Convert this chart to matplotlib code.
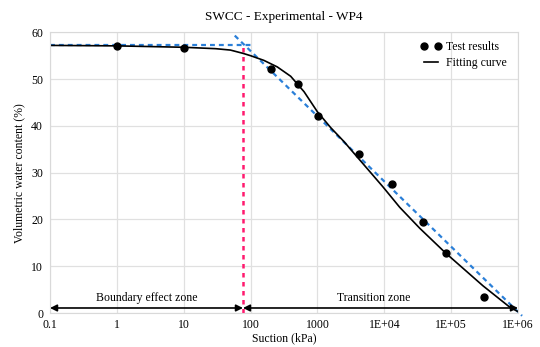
import matplotlib.pyplot as plt

plt.rcParams['font.family'] = ['Liberation Serif', 'DejaVu Serif']

# test results
suction = [1, 10, 200, 510, 1010, 4150, 12900, 37700, 83000, 310000]
vwc = [57.0, 56.7, 52.1, 48.9, 42.1, 34.0, 27.6, 19.4, 12.8, 3.4]

# fitting curve
fit_s = [0.1, 1, 10, 30, 50, 77, 100, 158, 251, 398, 631, 1000, 1585, 2512,
         3400, 9500, 17000, 34000, 83000, 300000, 760000, 1000000]
fit_w = [57.2, 57.1, 56.8, 56.5, 56.2, 55.5, 55.0, 54.0, 52.6, 50.6, 47.3, 43.0,
         39.6, 36.6, 34.4, 27.0, 22.6, 18.1, 12.8, 5.8, 1.2, 0.3]

# blue construction lines
hz_s = [0.1, 100]
hz_w = [57.3, 57.3]
sl_s = [58, 1.15e6]
sl_w = [59.3, -0.6]

aev = 77
xticks = [0.1, 1, 10, 100, 1000, 1e4, 1e5, 1e6]
xlabels = ['0.1', '1', '10', '100', '1000', '1E+04', '1E+05', '1E+06']

fig = plt.figure(figsize=(5.4, 3.47), dpi=100)
ax = fig.add_axes([50 / 540, 1 - 313 / 347, 468 / 540, 280.7 / 347])

ax.set_xscale('log')
ax.set_xlim(0.1, 1e6)
ax.set_ylim(0, 60)
ax.grid(True, color='#e0e0e0', linewidth=0.9)
ax.set_axisbelow(True)
for sp in ax.spines.values():
    sp.set_color('#d9d9d9')

blue = '#2a7fd8'
ax.plot(hz_s, hz_w, linestyle=(0, (2.2, 1.8)), color=blue, linewidth=1.6, clip_on=False)
ax.plot(sl_s, sl_w, linestyle=(0, (2.2, 1.8)), color=blue, linewidth=1.6, clip_on=False)
ax.plot([aev, aev], [0, 57.7], linestyle=(0, (1.8, 1.8)), color='#ff1a6e', linewidth=1.8)

ax.plot(fit_s, fit_w, color='black', linewidth=1.2, label='Fitting curve')
ax.plot(suction, vwc, 'o', color='black', markersize=5, label='Test results')

arr = dict(arrowstyle='<|-|>', color='black', lw=1.2, shrinkA=0, shrinkB=0, mutation_scale=10)
ax.annotate('', xy=(0.1, 1.07), xytext=(aev, 1.07), arrowprops=arr)
ax.annotate('', xy=(aev, 1.07), xytext=(1e6, 1.07), arrowprops=arr)
ax.text(2.8, 1.9, 'Boundary effect zone', ha='center', va='bottom', fontsize=8.5)
ax.text(7000, 1.9, 'Transition zone', ha='center', va='bottom', fontsize=8.5)

ax.set_xticks(xticks)
ax.set_xticklabels(xlabels)
ax.minorticks_off()
ax.set_yticks(range(0, 61, 10))
ax.tick_params(axis='x', length=0, labelsize=8.5, pad=4)
ax.tick_params(axis='y', length=0, labelsize=8.5, pad=5)

ax.set_xlabel('Suction (kPa)', fontsize=8.5, labelpad=1)
ax.set_ylabel('Volumetric water content (%)', fontsize=8.5, labelpad=4)
ax.set_title('SWCC - Experimental - WP4', fontsize=9.5, pad=9)

h, l = ax.get_legend_handles_labels()
ax.legend([h[1], h[0]], [l[1], l[0]], loc='upper right', bbox_to_anchor=(0.975, 0.97),
          frameon=False, fontsize=8.5, numpoints=2, handlelength=1.8, handletextpad=0.3,
          borderaxespad=0, borderpad=0, labelspacing=0.35)

fig.savefig('out.png', dpi=100)
